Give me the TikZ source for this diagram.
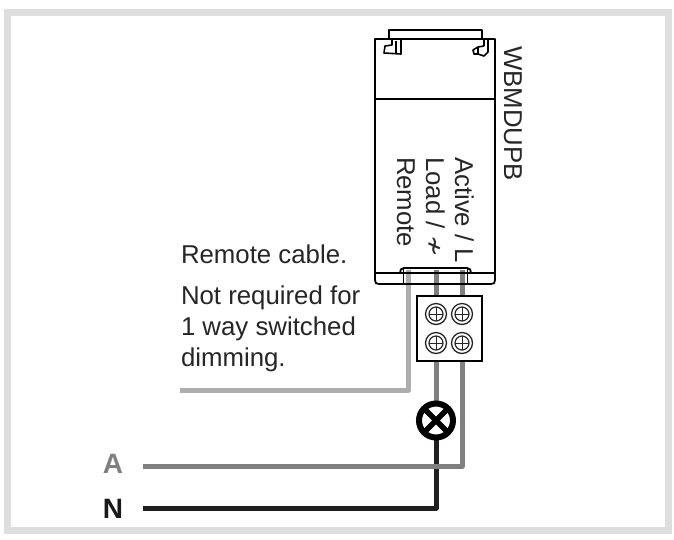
\documentclass[tikz,border=0pt]{standalone}
\usepackage{fontspec}
\setmainfont{Liberation Sans}
\newfontfamily\symfont{DejaVu Sans}
\begin{document}
\begin{tikzpicture}[x=1pt,y=-1pt,
  every node/.style={inner sep=0pt,outer sep=0pt,text=black!85},
  label/.style={font=\fontsize{25.8}{25.8}\selectfont,anchor=base west},
  vlabel/.style={font=\fontsize{25.8}{25.8}\selectfont,anchor=base west,rotate=-90},
  wire/.style={line width=5pt,line join=round},
  outline/.style={draw=black,line width=1.8pt,line join=round},
  screwring/.style={circle,draw=black!85,fill=white,line width=1.3pt,minimum size=21pt},
  screwin/.style={circle,draw=black!85,fill=white,line width=1.2pt,minimum size=14pt,
    path picture={\draw[black!85,line width=1pt] (path picture bounding box.north) -- (path picture bounding box.south)
      (path picture bounding box.west) -- (path picture bounding box.east);}}]
\useasboundingbox (0,0) rectangle (674,539);
\fill[white] (0,0) rectangle (674,539);
\draw[draw=black!13,line width=7pt] (7.5,12.5) rectangle (668.5,530.5);

% named points
\coordinate (remoteEnd) at (408,270);
\coordinate (remoteFree) at (180,390);
\coordinate (loadTop) at (436,270);
\coordinate (activeTop) at (462,270);
\coordinate (aFree) at (143,466.5);
\coordinate (nFree) at (143,508);

% lamp centre
\coordinate (lampC) at (436,420.5);

% wires
\draw[wire,draw=black!32] (remoteEnd) |- (remoteFree);
\draw[wire,draw=black!88] (lampC) |- (nFree);
\draw[wire,draw=black!50] (loadTop) -- (lampC);
\draw[wire,draw=black!50] (activeTop) |- (aFree);

% device body
\draw[outline] (375,99) -- (375,39) -- (495,39) -- (495,99);
\draw[black,line width=2.2pt] (375,99) -- (495,99);
\draw[outline] (375,99) -- (375,280) .. controls (375,283) and (376,284) .. (379,284)
  -- (491,284) .. controls (494,284) and (495,283) .. (495,280) -- (495,99);
\draw[black,line width=2.2pt] (375,273) -- (495,273);
% notch
\draw[outline] (400,273) .. controls (400,270) and (401,268) .. (404,268) -- (467,268)
  .. controls (470,268) and (471,270) .. (471,273);
\draw[outline] (403.5,268) -- (403.5,284) (467.5,268) -- (467.5,284);
% top bracket
\draw[outline] (389,39) -- (389,30) -- (482,30) -- (482,39);
% clips
\draw[black,line width=1.6pt,line join=round] (392,39) -- (392,45) -- (385,46) -- (384,53) -- (401,54) -- (401,39)
  (396,41) -- (396,54);
\draw[black,line width=1.6pt,line join=round] (488,39) -- (488,52) -- (484,56) -- (478,54) -- (478,47) -- (473,50) -- (474,54) -- (478,54)
  (478,47) -- (484,46) (484,39) -- (484,46);

% terminal block
\node[draw=black,fill=white,line width=1.5pt,minimum width=65pt,minimum height=65pt] (block) at (449.5,328.5) {};
\foreach \n/\x/\y in {tl/436/314,tr/462/314,bl/436/343,br/462/343}{
  \node[screwring] (ring\n) at (\x,\y) {};
  \node[screwin] (screw\n) at (\x,\y) {};
}

% lamp
\node[circle,draw=black,fill=white,line width=6pt,minimum size=34pt] (lamp) at (lampC) {};
\draw[black,line width=5.5pt] (lamp.north west) -- (lamp.south east) (lamp.north east) -- (lamp.south west);

% labels
\node[label] (t1) at (181,263) {Remote cable.};
\node[label] (t2) at (181,304) {Not required for};
\node[label] (t3) at (181,335) {1 way switched};
\node[label] (t4) at (181,366) {dimming.};
\node[vlabel] (wb) at (504,46) {WBMDUPB};
\node[vlabel] (act) at (455,157) {Active / L};
\node[vlabel] (load) at (426,157) {Load / {\symfont ≁}};
\node[vlabel] (rem) at (397,157) {Remote};
\node[font=\fontsize{28}{28}\selectfont\bfseries,text=black!50,anchor=base] (la) at (113,473) {A};
\node[font=\fontsize{28}{28}\selectfont\bfseries,text=black!90,anchor=base] (ln) at (113,518) {N};
\end{tikzpicture}
\end{document}
